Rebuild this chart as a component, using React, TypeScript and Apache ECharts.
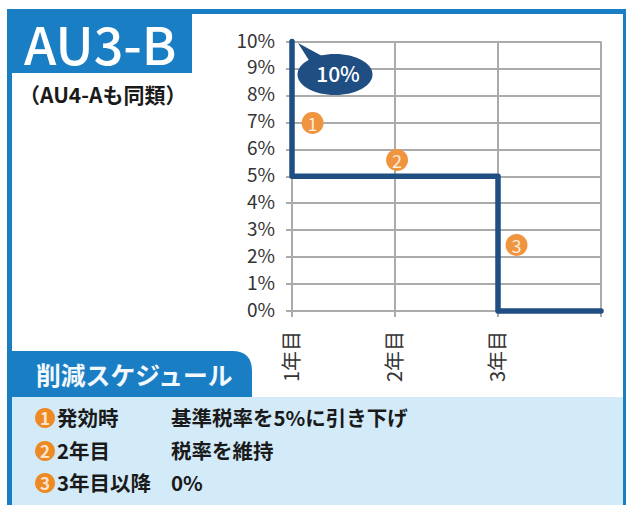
import React, { useEffect, useRef } from "react";
import * as echarts from "echarts";

const FONT = '"Noto Sans CJK JP", "Noto Sans", sans-serif';

const rateYears = [1, 1, 2, 3, 3, 4];
const rateValues = [10, 5, 5, 5, 0, 0];
const yearLabels: Record<number, string> = { 1: "1年目", 2: "2年目", 3: "3年目", 4: "" };
const markerPoints = [
  [1.2, 6.98, "1"],
  [2.02, 5.6, "2"],
  [3.18, 2.45, "3"],
];
const title = "AU3-B";
const subtitle = "（AU4-Aも同類）";
const calloutText = "10%";
const scheduleTitle = "削減スケジュール";
const scheduleMarks = ["1", "2", "3"];
const schedulePhases = ["発効時", "2年目", "3年目以降"];
const scheduleDetails = ["基準税率を5%に引き下げ", "税率を維持", "0%"];

const BLUE = "#1A7EC5";
const NAVY = "#1F4E82";
const ORANGE = "#F0953F";
const rowY = [417, 450, 482];

echarts.graphic.registerShape(
  "tab",
  echarts.graphic.extendPath("M12 397 L12 351 L232 351 Q252 351 252 371 L252 397 Z", {})
);

export default function App() {
  const ref = useRef<HTMLDivElement>(null);
  useEffect(() => {
    document.body.style.margin = "0";
    const chart = echarts.init(ref.current!, null, { renderer: "svg" });
    const txt = (x: number, y: number, text: string, fontSize: number, fill: string, fontWeight: any = 500, align = "left") => ({
      type: "text", x, y, z: 20,
      style: { text, fontSize, fill, fontWeight, fontFamily: FONT, align, verticalAlign: "middle" },
    });
    const rows: any[] = [];
    rowY.forEach((y, i) => {
      rows.push({ type: "circle", x: 45, y: y + 1, z: 19, shape: { r: 10 }, style: { fill: "#EE8A24" } });
      rows.push(txt(45, y + 0.5, scheduleMarks[i], 17, "#FBE3CC", 700, "center"));
      rows.push(txt(57, y, schedulePhases[i], 20.5, "#1A1A1A", 700));
      rows.push(txt(171, y, scheduleDetails[i], 20.5, "#1A1A1A", 700));
    });
    chart.setOption({
      animation: false,
      backgroundColor: "#fff",
      textStyle: { fontFamily: FONT },
      grid: { left: 292, right: 25, top: 41.5, bottom: 194 },
      xAxis: {
        type: "value", min: 1, max: 4, interval: 1,
        axisLine: { show: true, onZero: true, lineStyle: { color: "#ABABAB", width: 2 } },
        axisTick: { show: true, length: 6, lineStyle: { color: "#ABABAB", width: 2 } },
        axisLabel: {
          rotate: 90, margin: 20, fontSize: 20, color: "#333", fontFamily: FONT,
          rich: { a: { fontSize: 20, color: "#333", fontFamily: FONT, padding: [0, 0, 4, 0] } },
          formatter: (v: number) => (yearLabels[v] ? `{a|${yearLabels[v]}}` : ""),
        },
        splitLine: { show: true, lineStyle: { color: "#ABABAB", width: 2 } },
      },
      yAxis: {
        type: "value", min: 0, max: 10, interval: 1,
        axisLine: { show: true, lineStyle: { color: "#ABABAB", width: 2 } },
        axisTick: { show: true, length: 6, lineStyle: { color: "#ABABAB", width: 2 } },
        axisLabel: {
          margin: 17, fontSize: 19, color: "#333", fontFamily: FONT,
          rich: { a: { fontSize: 19, color: "#333", fontFamily: FONT, padding: [0, 0, 5, 0] } },
          formatter: (v: number) => `{a|${v}%}`,
        },
        splitLine: { show: true, lineStyle: { color: "#ABABAB", width: 2 } },
      },
      series: [
        {
          type: "line",
          data: rateYears.map((x, i) => [x, rateValues[i]]),
          showSymbol: false,
          clip: false,
          lineStyle: { color: NAVY, width: 5.5, cap: "round", join: "round" },
        },
        {
          type: "scatter",
          data: markerPoints,
          symbol: "circle",
          symbolSize: 22,
          z: 5,
          itemStyle: { color: ORANGE, opacity: 1 },
          label: {
            show: true, position: "inside", color: "#FDEBD9", fontSize: 18, fontFamily: FONT,
            formatter: (p: any) => p.value[2],
          },
        },
      ],
      graphic: [
        { type: "rect", z: 10, shape: { x: 7, y: 9, width: 619, height: 5 }, style: { fill: BLUE } },
        { type: "rect", z: 10, shape: { x: 7, y: 9, width: 5, height: 496 }, style: { fill: BLUE } },
        { type: "rect", z: 10, shape: { x: 623, y: 9, width: 3, height: 496 }, style: { fill: BLUE } },
        { type: "rect", z: 10, shape: { x: 7, y: 9, width: 185, height: 64 }, style: { fill: BLUE } },
        txt(24, 42, title, 52, "#fff", 500),
        txt(19, 94, subtitle, 21, "#1A1A1A", 700),
        { type: "polygon", z: 10, shape: { points: [[298, 43], [322, 56], [310, 62]] }, style: { fill: NAVY } },
        { type: "ellipse", z: 10, shape: { cx: 335, cy: 74.5, rx: 37.5, ry: 20.5 }, style: { fill: NAVY } },
        txt(338, 72.5, calloutText, 21, "#fff", 500, "center"),
        { type: "rect", z: 10, shape: { x: 12, y: 397, width: 611, height: 108 }, style: { fill: "#D3EBF9" } },
        { type: "tab", z: 10, style: { fill: BLUE } },
        txt(36, 374, scheduleTitle, 24.8, "#F2F8FC", 700),
        ...rows,
      ],
    });
    return () => chart.dispose();
  }, []);
  return <div ref={ref} style={{ width: 626, height: 505 }} />;
}
